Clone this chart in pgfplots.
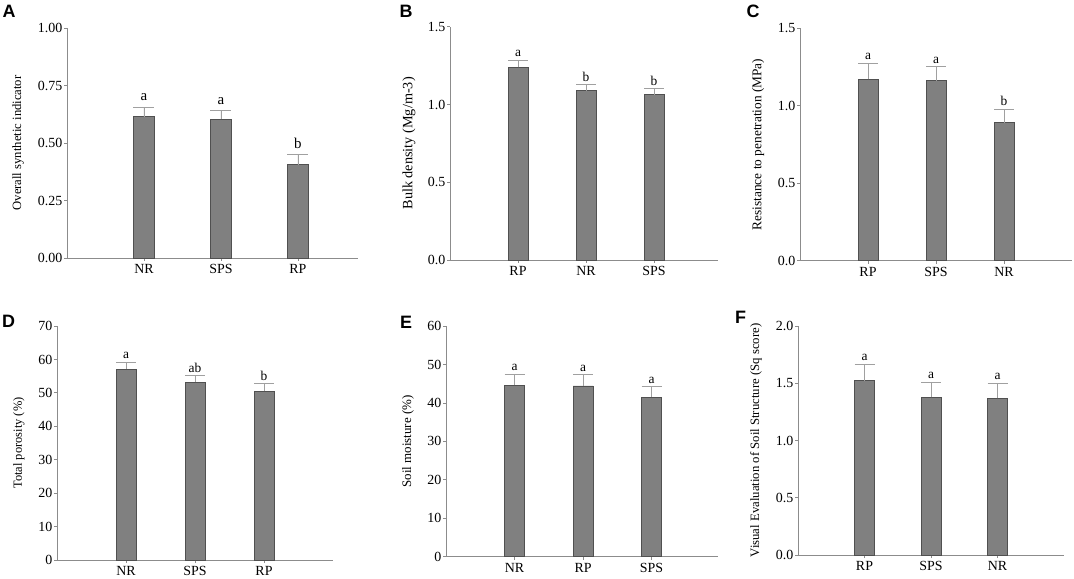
\documentclass[border=0pt]{standalone}
\usepackage{pgfplots}
\usepackage{pgfplotstable}
\pgfplotsset{compat=1.18}
\usepackage{fontspec}
\setmainfont{Liberation Serif}
\newfontfamily\panelfont{Liberation Sans}
\definecolor{barfill}{HTML}{808080}
\definecolor{baredge}{HTML}{505050}
\definecolor{axgray}{HTML}{8C8C8C}
\definecolor{errgray}{HTML}{A0A0A0}

\pgfplotstableread{
x y err lab
0 0.614 0.041 a
1 0.603 0.037 a
2 0.406 0.043 b
}\tabA
\pgfplotstableread{
x y err lab
0 1.238 0.047 a
1 1.088 0.041 b
2 1.063 0.040 b
}\tabB
\pgfplotstableread{
x y err lab
0 1.171 0.105 a
1 1.162 0.090 a
2 0.891 0.088 b
}\tabC
\pgfplotstableread{
x y err lab
0 57.1 2.1 a
1 53.2 1.9 ab
2 50.55 2.15 b
}\tabD
\pgfplotstableread{
x y err lab
0 44.65 2.85 a
1 44.4 3.0 a
2 41.5 2.8 a
}\tabE
\pgfplotstableread{
x y err lab
0 1.522 0.146 a
1 1.377 0.134 a
2 1.368 0.132 a
}\tabF

\pgfplotsset{
  panel/.style={
    scale only axis,
    anchor=south west,
    axis x line*=bottom, axis y line*=left,
    axis line style={axgray, line width=0.8pt, -},
    xmin=-1, ymin=0,
    xtick={0,1,2},
    tick align=outside,
    major tick length=3bp,
    tick style={axgray, line width=0.8pt},
    ticklabel style={font=\fontsize{14}{16}\selectfont},
    yticklabel style={inner sep=1.5bp},
    /pgf/number format/assume math mode=true,
    every axis y label/.style={rotate=90, anchor=center},
    clip=false,
  },
  ylab/.style 2 args={ylabel style={at={(axis description cs:#1,0.5)}, font=\fontsize{#2}{#2}\selectfont}},
  bars/.style={
    ybar, bar width=#1, bar shift=0pt, fill=barfill, draw=baredge, line width=0.8pt,
    error bars/.cd, y dir=plus, y explicit,
    error bar style={errgray, line width=0.8pt},
    error mark options={errgray, mark size=#1/2, line width=0.8pt, rotate=90},
  },
  letters/.style={
    only marks, mark=none,
    nodes near coords, point meta=explicit symbolic,
    nodes near coords style={font=\fontsize{13.5}{15}\selectfont, anchor=south, inner sep=1bp, yshift=2bp, black},
  },
}

\begin{document}
\begin{tikzpicture}
\useasboundingbox (0,0) rectangle (1074bp,579bp);

% A
\begin{axis}[panel, at={(67bp,321bp)}, width=291bp, height=230bp,
  xmax=2.78, ymax=1, ytick={0,0.25,0.5,0.75,1},
  yticklabel style={/pgf/number format/.cd, fixed, fixed zerofill, precision=2},
  xticklabels={NR,SPS,RP},
  ylabel={Overall synthetic indicator}, ylab={-0.168}{12.7}]
\addplot[bars=21bp] table[x=x, y=y, y error=err] {\tabA};
\addplot[letters, nodes near coords style={font=\fontsize{15}{16}\selectfont, yshift=3bp}] table[x=x, y expr=\thisrow{y}+\thisrow{err}, meta=lab] {\tabA};
\end{axis}

% B
\begin{axis}[panel, at={(450bp,319bp)}, width=268bp, height=233.3bp,
  xmax=2.94, ymax=1.5, ytick={0,0.5,1,1.5},
  yticklabel style={/pgf/number format/.cd, fixed, fixed zerofill, precision=1},
  xticklabels={RP,NR,SPS},
  ylabel={Bulk density (Mg/m-3)}, ylab={-0.153}{14.3}]
\addplot[bars=20bp] table[x=x, y=y, y error=err] {\tabB};
\addplot[letters] table[x=x, y expr=\thisrow{y}+\thisrow{err}, meta=lab] {\tabB};
\end{axis}

% C
\begin{axis}[panel, at={(800bp,318.3bp)}, width=272bp, height=232.4bp,
  xmax=3, ymax=1.5, ytick={0,0.5,1,1.5},
  yticklabel style={/pgf/number format/.cd, fixed, fixed zerofill, precision=1},
  xticklabels={RP,SPS,NR},
  ylabel={Resistance to penetration (MPa)}, ylab={-0.154}{13.4}]
\addplot[bars=20bp] table[x=x, y=y, y error=err] {\tabC};
\addplot[letters] table[x=x, y expr=\thisrow{y}+\thisrow{err}, meta=lab] {\tabC};
\end{axis}

% D
\begin{axis}[panel, at={(57bp,19bp)}, width=276bp, height=234bp,
  xmax=3, ymax=70, ytick={0,10,...,70},
  xticklabels={NR,SPS,RP},
  ylabel={Total porosity (\%)}, ylab={-0.138}{12.5}]
\addplot[bars=20bp] table[x=x, y=y, y error=err] {\tabD};
\addplot[letters] table[x=x, y expr=\thisrow{y}+\thisrow{err}, meta=lab] {\tabD};
\end{axis}

% E
\begin{axis}[panel, at={(446bp,22.3bp)}, width=272bp, height=230.7bp,
  xmax=2.97, ymax=60, ytick={0,10,...,60},
  xticklabels={NR,RP,SPS},
  ylabel={Soil moisture (\%)}, ylab={-0.14}{13}]
\addplot[bars=20bp] table[x=x, y=y, y error=err] {\tabE};
\addplot[letters] table[x=x, y expr=\thisrow{y}+\thisrow{err}, meta=lab] {\tabE};
\end{axis}

% F
\begin{axis}[panel, at={(798bp,24bp)}, width=266bp, height=229bp,
  xmax=3, ymax=2, ytick={0,0.5,1,1.5,2},
  yticklabel style={/pgf/number format/.cd, fixed, fixed zerofill, precision=1},
  xticklabels={RP,SPS,NR},
  ylabel={Visual Evaluation of Soil Structure (Sq score)}, ylab={-0.158}{12.8}]
\addplot[bars=20bp] table[x=x, y=y, y error=err] {\tabF};
\addplot[letters] table[x=x, y expr=\thisrow{y}+\thisrow{err}, meta=lab] {\tabF};
\end{axis}

\begin{scope}[every node/.style={font=\panelfont\bfseries\fontsize{18}{20}\selectfont, inner sep=0pt, anchor=center}]
\node at (9bp,567.5bp) {A};
\node at (406bp,568bp) {B};
\node at (753bp,568bp) {C};
\node at (8.5bp,258bp) {D};
\node at (406bp,257bp) {E};
\node at (740.5bp,261.5bp) {F};
\end{scope}
\end{tikzpicture}
\end{document}
